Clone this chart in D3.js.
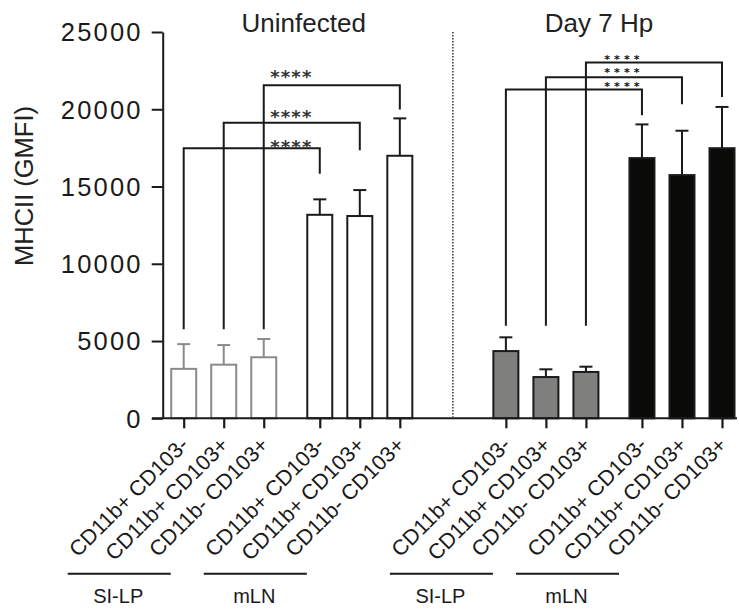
<!DOCTYPE html>
<html>
<head>
<meta charset="utf-8">
<script src="https://cdn.jsdelivr.net/npm/d3@7"></script>
<style>
  html, body { margin: 0; padding: 0; background: #fff; }
  svg { display: block; font-family: "Liberation Sans", Arial, sans-serif; }
</style>
</head>
<body>
<svg id="chart" width="739" height="610"></svg>
<script>
// ---------------- data ----------------
const categories = [
  "CD11b+ CD103-", "CD11b+ CD103+", "CD11b- CD103+",
  "CD11b+ CD103-", "CD11b+ CD103+", "CD11b- CD103+",
  "CD11b+ CD103-", "CD11b+ CD103+", "CD11b- CD103+",
  "CD11b+ CD103-", "CD11b+ CD103+", "CD11b- CD103+"
];
const conditions = ["Uninfected", "Day 7 Hp"];
const tissues = ["SI-LP", "mLN", "SI-LP", "mLN"];
const meanValues = [3200, 3470, 3950, 13170, 13090, 16990, 4350, 2670, 3000, 16840, 15740, 17480];
const sdValues   = [1600, 1270, 1180, 1000, 1680, 2420, 890, 500, 340, 2180, 2870, 2670];
const yTicks = [0, 5000, 10000, 15000, 20000, 25000];
const yLabel = "MHCII (GMFI)";

// significance comparisons
const compFrom   = [0, 1, 2, 6, 7, 8];
const compTo     = [3, 4, 5, 9, 10, 11];
const compLevel  = [17470, 19120, 21560, 21280, 22077, 23027];
const compLegLow = [5760, 5760, 5760, 5990, 5990, 5990];
const compTipLow = [15820, 17355, 19990, 19620, 20330, 20800];
const compText   = ["****", "****", "****", "****", "****", "****"];
const compTextY  = [17790, 19730, 22315, 21670, 22530, 23390];

// ---------------- layout ----------------
const svg = d3.select("#chart");
const tissueGap = 0.4, conditionGap = 1.25;
const slot = categories.map((c, i) => {
  const g = Math.floor(i / 3);
  const cond = Math.floor(i / 6);
  return i + g * tissueGap + cond * conditionGap;
});
const x = d3.scaleLinear().domain([0, slot[slot.length - 1]]).range([183.7, 722]);
const y = d3.scaleLinear().domain([0, 25000]).range([418.3, 32]);
const barW = 25;
const axisX = 162.7;
const ink = "#1a1a1a";
const gray = "#8a8a8a";

function barStyle(i) {
  const g = Math.floor(i / 3);
  if (g === 0) return { fill: "#fff", stroke: gray, err: gray };
  if (g === 1) return { fill: "#fff", stroke: ink, err: ink };
  if (g === 2) return { fill: "#7f7f7d", stroke: ink, err: ink };
  return { fill: "#0a0a08", stroke: ink, err: ink };
}

// dotted separator
const sepSlot = (slot[5] + slot[6]) / 2;
svg.append("line")
  .attr("x1", x(sepSlot)).attr("x2", x(sepSlot))
  .attr("y1", y(25000)).attr("y2", y(0) - 1.5)
  .attr("stroke", "#333").attr("stroke-width", 1.5)
  .attr("stroke-dasharray", "1.5,1.5");

// error bars
const eg = svg.append("g");
meanValues.forEach((m, i) => {
  const st = barStyle(i);
  const cx = x(slot[i]);
  eg.append("line").attr("x1", cx).attr("x2", cx)
    .attr("y1", y(m)).attr("y2", y(m + sdValues[i]))
    .attr("stroke", st.err).attr("stroke-width", 2);
  eg.append("line").attr("x1", cx - 6.5).attr("x2", cx + 6.5)
    .attr("y1", y(m + sdValues[i])).attr("y2", y(m + sdValues[i]))
    .attr("stroke", st.err).attr("stroke-width", 2);
});

// bars
svg.append("g").selectAll("rect").data(meanValues).join("rect")
  .attr("x", (d, i) => x(slot[i]) - barW / 2)
  .attr("width", barW)
  .attr("y", d => y(d))
  .attr("height", d => y(0) - y(d))
  .attr("fill", (d, i) => barStyle(i).fill)
  .attr("stroke", (d, i) => barStyle(i).stroke)
  .attr("stroke-width", 2);

// y axis
const yAxis = d3.axisLeft(y).tickValues(yTicks).tickSize(11).tickSizeOuter(0).tickPadding(9)
  .tickFormat(d3.format("d"));
const ya = svg.append("g").attr("transform", `translate(${axisX},0)`).call(yAxis);
ya.select(".domain").attr("stroke", ink).attr("stroke-width", 2);
ya.selectAll(".tick line").attr("stroke", ink).attr("stroke-width", 2);
ya.selectAll(".tick text").attr("fill", ink).style("font-size", "25.5px")
  .style("letter-spacing", "2.2px").attr("dy", "0.35em");

// x axis
const xAxis = d3.axisBottom(x).tickValues(slot).tickSize(10).tickSizeOuter(0).tickFormat(() => "");
const xa = svg.append("g").attr("transform", `translate(0,${y(0)})`).call(xAxis);
xa.select(".domain").remove();
xa.selectAll(".tick line").attr("stroke", ink).attr("stroke-width", 2.2);
svg.append("line").attr("x1", 152).attr("x2", 737)
  .attr("y1", y(0)).attr("y2", y(0)).attr("stroke", ink).attr("stroke-width", 2);

// rotated category labels
svg.append("g").selectAll("text").data(categories).join("text")
  .attr("transform", (d, i) => `translate(${x(slot[i]) + 6},${y(0) + 28}) rotate(-45)`)
  .attr("text-anchor", "end")
  .attr("fill", ink)
  .style("font-size", "21.5px")
  .text(d => d);

// tissue underlines + labels
const underlineShift = [0, 0, 0, -10];
tissues.forEach((t, g) => {
  const x1 = x(slot[g * 3]) - 116 + underlineShift[g];
  const x2 = x(slot[g * 3 + 2]) - 93 + underlineShift[g];
  svg.append("line").attr("x1", x1).attr("x2", x2)
    .attr("y1", 573.7).attr("y2", 573.7).attr("stroke", ink).attr("stroke-width", 2);
  svg.append("text").attr("x", (x1 + x2) / 2 - 1).attr("y", 603)
    .attr("text-anchor", "middle").attr("fill", ink)
    .style("font-size", "20px").text(t);
});

// condition titles
conditions.forEach((c, k) => {
  const cx = k === 0 ? (x(slot[0]) + x(slot[5])) / 2 + 12 : (x(slot[6]) + x(slot[11])) / 2 - 15;
  svg.append("text").attr("x", cx).attr("y", 31.5)
    .attr("text-anchor", "middle").attr("fill", "#222")
    .style("font-size", "26px").text(c);
});

// y label
svg.append("text")
  .attr("transform", `translate(33,186) rotate(-90)`)
  .attr("text-anchor", "middle").attr("fill", "#222")
  .style("font-size", "25.5px").text(yLabel);

// significance brackets
const bg = svg.append("g");
compFrom.forEach((a, k) => {
  const b = compTo[k];
  const xa1 = x(slot[a]), xb1 = x(slot[b]);
  const path = d3.path();
  path.moveTo(xa1, y(compLegLow[k]));
  path.lineTo(xa1, y(compLevel[k]));
  path.lineTo(xb1, y(compLevel[k]));
  path.lineTo(xb1, y(compTipLow[k]));
  bg.append("path").attr("d", path.toString())
    .attr("fill", "none").attr("stroke", ink).attr("stroke-width", 2);
  const left = k < 3;
  const fs = left ? 18 : 11.2;
  const ls = left ? 1.2 : 4;
  const sx = (left ? (x(slot[0]) + x(slot[5])) / 2 - 1 : (x(slot[6]) + x(slot[11])) / 2 + 8) + ls / 2;
  bg.append("text").attr("x", sx).attr("y", y(compTextY[k]) + 0.54 * fs)
    .attr("text-anchor", "middle").attr("fill", left ? "#333" : "#111")
    .style("font-family", "'DejaVu Sans', sans-serif")
    .style("font-weight", "bold")
    .style("font-size", fs + "px")
    .style("letter-spacing", ls + "px")
    .text(compText[k]);
});
</script>
</body>
</html>
